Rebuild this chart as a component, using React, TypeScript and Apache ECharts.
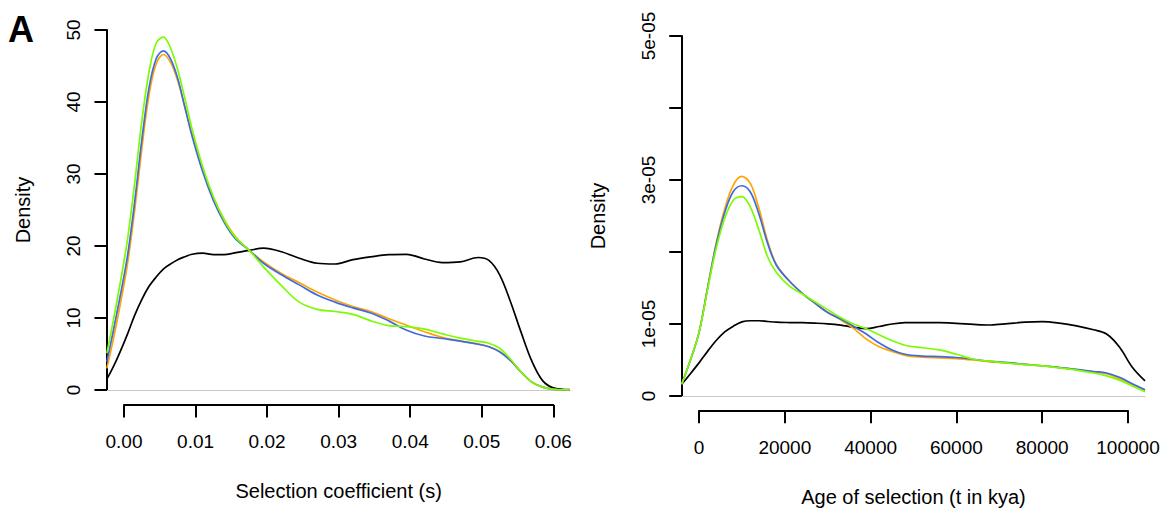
import React, { useEffect, useRef } from "react";
import * as echarts from "echarts";

// ---------- Panel A, left: selection coefficient ----------
const selX = [
  -0.0024, -0.0015, -0.0005, 0.0005, 0.0015, 0.0025, 0.0035, 0.0045, 0.0055, 0.0065,
  0.0075, 0.0085, 0.0095, 0.011, 0.0125, 0.014, 0.0155, 0.0175, 0.0195, 0.022,
  0.0245, 0.027, 0.0295, 0.032, 0.0345, 0.037, 0.0395, 0.042, 0.0445, 0.047,
  0.0495, 0.051, 0.0525, 0.054, 0.0555, 0.057, 0.0585, 0.06, 0.0623,
];
const selBlack = [
  1.5, 3.2, 5.4, 7.8, 10.4, 12.6, 14.4, 15.7, 16.8, 17.5,
  18.1, 18.5, 18.85, 19.0, 18.8, 18.8, 19.05, 19.4, 19.7, 19.2,
  18.3, 17.6, 17.5, 18.1, 18.5, 18.8, 18.85, 18.2, 17.7, 17.8,
  18.4, 18.0, 16.0, 12.3, 8.0, 4.0, 1.3, 0.3, 0.05,
];
const selOrange = [
  3.0, 7.0, 12.0, 17.6, 25.0, 33.6, 41.0, 45.3, 46.6, 45.5,
  43.0, 39.3, 35.6, 30.6, 26.7, 23.7, 21.4, 19.4, 17.8, 16.2,
  14.9, 13.6, 12.5, 11.6, 10.9, 9.9, 9.0, 8.1, 7.3, 6.8,
  6.4, 6.0, 5.3, 4.1, 2.5, 1.1, 0.4, 0.1, 0.02,
];
const selBlue = [
  3.9, 8.2, 13.2, 18.7, 26.2, 34.8, 42.0, 46.0, 47.1, 46.0,
  43.3, 39.3, 35.3, 30.3, 26.3, 23.3, 21.1, 19.4, 17.6, 16.0,
  14.6, 13.2, 12.2, 11.4, 10.7, 9.6, 8.3, 7.5, 7.15, 6.8,
  6.35, 6.0, 5.3, 4.1, 2.5, 1.1, 0.4, 0.1, 0.02,
];
const selGreen = [
  5.1, 9.6, 15.0, 21.0, 28.8, 37.4, 44.2, 48.2, 49.0, 47.5,
  44.5, 40.5, 36.3, 31.0, 26.8, 23.6, 21.3, 19.4, 17.1, 14.5,
  12.2, 11.2, 10.9, 10.5, 9.6, 8.95, 8.8, 8.45, 7.8, 7.2,
  6.75, 6.5, 5.8, 4.3, 2.5, 1.1, 0.4, 0.1, 0.02,
];
const selTickLabels = ["0.00", "0.01", "0.02", "0.03", "0.04", "0.05", "0.06"];
const selYTickLabels = ["0", "10", "20", "30", "40", "50"];

// ---------- Panel A, right: age of selection (density in units of 1e-05) ----------
const ageX = [
  -4033, -2000, 0, 2000, 4000, 6000, 8000, 10000, 12000, 14000,
  16000, 18000, 21000, 24000, 27000, 30000, 33000, 36000, 39000, 42000,
  45000, 48000, 52000, 56000, 60000, 64000, 68000, 72000, 76000, 80000,
  84000, 88000, 92000, 95000, 98000, 101000, 103963,
];
const ageBlack = [
  0.163, 0.31, 0.46, 0.62, 0.77, 0.89, 0.97, 1.03, 1.045, 1.045,
  1.035, 1.025, 1.02, 1.018, 1.012, 1.003, 0.985, 0.955, 0.935, 0.965,
  1.0, 1.018, 1.02, 1.018, 1.01, 0.995, 0.986, 1.005, 1.025, 1.032,
  1.012, 0.975, 0.92, 0.86, 0.68, 0.4, 0.21,
];
const ageOrange = [
  0.163, 0.5, 0.88, 1.5, 2.12, 2.6, 2.93, 3.05, 2.95, 2.6,
  2.15, 1.83, 1.6, 1.43, 1.29, 1.16, 1.06, 0.94, 0.79, 0.685,
  0.62, 0.565, 0.54, 0.53, 0.52, 0.5, 0.475, 0.458, 0.44, 0.42,
  0.395, 0.365, 0.335, 0.31, 0.24, 0.16, 0.085,
];
const ageBlue = [
  0.163, 0.5, 0.88, 1.5, 2.1, 2.55, 2.84, 2.92, 2.83, 2.52,
  2.12, 1.82, 1.6, 1.43, 1.29, 1.16, 1.07, 0.97, 0.86, 0.735,
  0.64, 0.58, 0.555, 0.548, 0.535, 0.51, 0.48, 0.463, 0.44, 0.42,
  0.395, 0.37, 0.34, 0.32, 0.26, 0.17, 0.085,
];
const ageGreen = [
  0.163, 0.5, 0.88, 1.48, 2.05, 2.47, 2.72, 2.77, 2.62, 2.3,
  1.93, 1.72, 1.53, 1.42, 1.31, 1.2, 1.09, 1.0, 0.935, 0.85,
  0.77, 0.705, 0.67, 0.64, 0.58, 0.51, 0.48, 0.456, 0.435, 0.418,
  0.39, 0.36, 0.32, 0.28, 0.22, 0.14, 0.06,
];
const ageTickLabels = ["0", "20000", "40000", "60000", "80000", "100000"];
const ageYTickLabels = ["0", "1e-05", "", "3e-05", "", "5e-05"];

const seriesColors = { black: "#000000", orange: "#FFA500", blue: "#4169E1", green: "#7CFC00" };

const FONT = "'Liberation Sans', Arial, Helvetica, sans-serif";
const AXIS_LINE = { color: "#000", width: 2 };

function pairs(xs: number[], ys: number[]) {
  return xs.map((x, i) => [x, ys[i]]);
}

function curve(name: string, xs: number[], ys: number[], color: string, axisIdx: number) {
  return {
    name,
    type: "line",
    xAxisIndex: axisIdx,
    yAxisIndex: axisIdx,
    data: pairs(xs, ys),
    showSymbol: false,
    symbol: "none",
    smooth: 0.35,
    lineStyle: { color, width: 1.7 },
    z: 3,
  };
}

export default function App() {
  const ref = useRef<HTMLDivElement>(null);
  useEffect(() => {
    if (!ref.current) return;
    const chart = echarts.init(ref.current, undefined, { renderer: "svg" });

    const plotXAxis = (gridIndex: number, min: number, max: number) => ({
      gridIndex,
      type: "value",
      min,
      max,
      axisLine: { show: true, onZero: false, lineStyle: { color: "#c8c8c8", width: 1 } },
      axisTick: { show: false },
      axisLabel: { show: false },
      splitLine: { show: false },
    });

    const tickXAxis = (gridIndex: number, min: number, max: number, interval: number, labels: string[], name: string) => ({
      gridIndex,
      type: "value",
      min,
      max,
      interval,
      axisLine: { show: true, onZero: false, lineStyle: AXIS_LINE },
      axisTick: { show: true, length: 12.5, lineStyle: AXIS_LINE },
      axisLabel: {
        show: true,
        margin: 27,
        fontSize: 19,
        color: "#000",
        fontFamily: FONT,
        formatter: (_v: number, i: number) => labels[i] ?? "",
      },
      splitLine: { show: false },
      name,
      nameLocation: "middle",
      nameGap: 76,
      nameTextStyle: { fontSize: 20, color: "#000", fontFamily: FONT },
    });

    const densityYAxis = (gridIndex: number, max: number, labels: string[]) => ({
      gridIndex,
      type: "value",
      min: 0,
      max,
      interval: max / 5,
      axisLine: { show: true, onZero: false, lineStyle: AXIS_LINE },
      axisTick: { show: true, length: 12.5, lineStyle: AXIS_LINE },
      axisLabel: {
        show: true,
        rotate: 90,
        margin: 24,
        fontSize: 19,
        color: "#000",
        fontFamily: FONT,
        formatter: (_v: number, i: number) => labels[i] ?? "",
      },
      splitLine: { show: false },
      name: "Density",
      nameLocation: "middle",
      nameGap: 74,
      nameTextStyle: { fontSize: 20, color: "#000", fontFamily: FONT },
    });

    const hiddenYAxis = (gridIndex: number) => ({
      gridIndex,
      type: "value",
      min: 0,
      max: 1,
      show: false,
    });

    chart.setOption({
      animation: false,
      backgroundColor: "#ffffff",
      grid: [
        { left: 107, top: 30, width: 463, height: 360 },
        { left: 124, top: 30, width: 429.3, height: 375 },
        { left: 681.7, top: 36, width: 463.3, height: 360 },
        { left: 699, top: 36, width: 429, height: 374.7 },
      ],
      xAxis: [
        plotXAxis(0, -0.002376, 0.06233),
        tickXAxis(1, 0, 0.06, 0.01, selTickLabels, "Selection coefficient (s)"),
        plotXAxis(2, -4033, 103963),
        tickXAxis(3, 0, 100000, 20000, ageTickLabels, "Age of selection (t in kya)"),
      ],
      yAxis: [
        densityYAxis(0, 50, selYTickLabels),
        hiddenYAxis(1),
        densityYAxis(2, 5, ageYTickLabels),
        hiddenYAxis(3),
      ],
      series: [
        curve("black", selX, selBlack, seriesColors.black, 0),
        curve("orange", selX, selOrange, seriesColors.orange, 0),
        curve("blue", selX, selBlue, seriesColors.blue, 0),
        curve("green", selX, selGreen, seriesColors.green, 0),
        curve("black", ageX, ageBlack, seriesColors.black, 2),
        curve("orange", ageX, ageOrange, seriesColors.orange, 2),
        curve("blue", ageX, ageBlue, seriesColors.blue, 2),
        curve("green", ageX, ageGreen, seriesColors.green, 2),
      ],
      graphic: [
        {
          type: "text",
          left: 8,
          top: 11,
          style: {
            text: "A",
            fontSize: 36,
            fontWeight: "bold",
            fontFamily: FONT,
            fill: "#000",
          },
        },
      ],
    });

    return () => chart.dispose();
  }, []);

  return (
    <div
      ref={ref}
      style={{ position: "absolute", left: 0, top: 0, width: 1169, height: 514, background: "#fff" }}
    />
  );
}
